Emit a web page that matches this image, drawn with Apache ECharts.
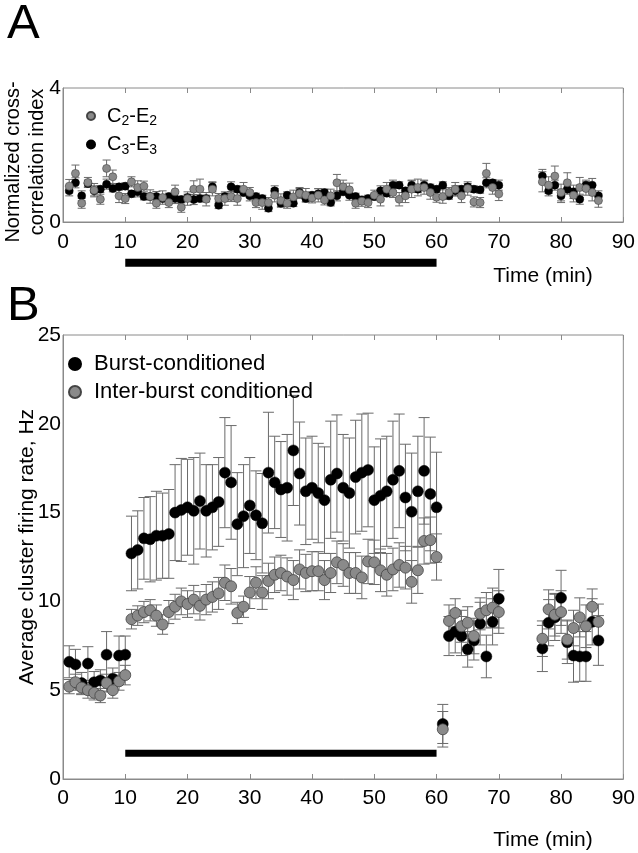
<!DOCTYPE html>
<html><head><meta charset="utf-8">
<script src="https://cdn.jsdelivr.net/npm/echarts@6/dist/echarts.min.js"></script>
<style>html,body{margin:0;padding:0;background:#fff}#c{width:638px;height:853px}</style>
</head><body><div id="c"></div>
<script>
// ---------- Panel A data ----------
const tA = [1,2,3,4,5,6,7,8,9,10,11,12,13,14,15,16,17,18,19,20,21,22,23,24,25,26,27,28,29,30,31,32,33,34,35,36,37,38,39,40,41,42,43,44,45,46,47,48,49,50,51,52,53,54,55,56,57,58,59,60,61,62,63,64,65,66,67,68,69,70,77,78,79,80,81,82,83,84,85,86];
const c2e2 = [1.07,1.45,0.56,1.18,0.95,0.68,1.6,1.35,0.78,0.7, 1.2,1.03,1.07,0.76,0.56,0.73,0.58,0.9,0.44,0.7, 0.98,0.98,0.68,0.98,0.7,0.7,0.76,0.7,0.98,0.88, 0.58,0.58,0.58,0.8,0.64,0.56,0.75,0.85,0.8,0.72, 0.8,0.66,0.78,1.17,1.05,0.96,0.56,0.62,0.58,0.8, 0.68,0.98,0.88,0.68,0.78,0.98,1.03,1.03,0.88,0.74, 0.76,0.88,0.98,0.78,1.0,0.6,0.58,1.45,1.03,0.84, 1.2,1.1,1.37,0.88,1.17,0.8,1.03,1.0,0.88,0.64];
const c2e2Err = [0.2,0.25,0.15,0.15,0.2,0.15,0.25,0.2,0.2,0.15, 0.15,0.2,0.15,0.2,0.15,0.2,0.15,0.2,0.15,0.2, 0.25,0.3,0.2,0.2,0.15,0.2,0.15,0.2,0.2,0.15, 0.15,0.2,0.15,0.2,0.2,0.15,0.2,0.15,0.2,0.15, 0.2,0.15,0.2,0.25,0.2,0.2,0.15,0.15,0.15,0.15, 0.2,0.2,0.15,0.2,0.2,0.25,0.25,0.2,0.2,0.15, 0.2,0.15,0.2,0.2,0.2,0.15,0.15,0.3,0.2,0.2, 0.3,0.25,0.3,0.25,0.3,0.2,0.3,0.2,0.25,0.2];
const c3e3 = [0.93,1.17,0.78,1.15,0.93,0.98,1.13,1.0,1.05,1.07, 0.84,0.9,0.76,0.76,0.76,0.7,0.76,0.7,0.67,0.73, 0.67,0.7,0.7,1.05,0.5,0.76,1.05,0.98,0.88,0.78, 0.76,0.7,0.41,0.93,0.56,0.8,0.56,0.88,0.7,0.8, 0.84,0.88,0.58,0.78,0.9,0.8,0.76,0.66,0.7,0.76, 0.93,0.86,1.1,1.1,0.93,1.1,0.98,1.1,1.03,0.98, 1.1,0.78,0.93,0.98,1.05,0.98,0.96,1.17,1.17,1.1, 1.37,0.93,1.1,0.78,0.98,0.9,0.68,1.1,1.1,0.78];
const c3e3Err = [0.15,0.15,0.15,0.1,0.15,0.1,0.15,0.1,0.1,0.1, 0.1,0.15,0.1,0.1,0.15,0.1,0.1,0.15,0.1,0.1, 0.15,0.1,0.1,0.15,0.1,0.1,0.15,0.1,0.1,0.15, 0.1,0.1,0.1,0.15,0.1,0.1,0.1,0.15,0.1,0.1, 0.15,0.1,0.1,0.15,0.1,0.15,0.1,0.1,0.1,0.1, 0.15,0.1,0.15,0.1,0.1,0.15,0.1,0.15,0.1,0.1, 0.1,0.1,0.15,0.1,0.1,0.1,0.1,0.15,0.1,0.15, 0.2,0.15,0.15,0.2,0.15,0.2,0.15,0.15,0.2,0.15];

// ---------- Panel B data ----------
const tB = [1,2,3,4,5,6,7,8,9,10,11,12,13,14,15,16,17,18,19,20,21,22,23,24,25,26,27,28,29,30,31,32,33,34,35,36,37,38,39,40,41,42,43,44,45,46,47,48,49,50,51,52,53,54,55,56,57,58,59,60,61,62,63,64,65,66,67,68,69,70,77,78,79,80,81,82,83,84,85,86];
const burst = [6.6,6.45,5.4,6.5,5.45,5.55,7.0,5.65,6.95,7.0, 12.7,12.9,13.55,13.5,13.7,13.7,13.8,15.0,15.15,15.3, 15.1,15.65,15.1,15.3,15.6,17.25,16.7,14.35,14.8,15.4, 14.85,14.4,17.25,16.7,16.3,16.4,18.5,17.2,16.2,16.4, 16.1,15.7,16.85,17.2,16.4,16.1,17.0,17.25,17.4,15.7, 15.95,16.2,16.85,17.35,15.85,15.05,16.2,17.35,16.05,15.3, 3.1,8.05,8.3,8.05,7.3,7.8,8.75,6.9,8.85,10.15, 7.35,8.8,9.1,10.2,7.7,6.95,6.9,6.9,8.85,7.8];
const burstErr = [0.9,0.85,0.6,0.95,0.6,0.6,1.3,0.6,1.1,1.05, 2.1,2.2,2.3,2.4,2.5,2.4,2.5,2.7,2.9,2.7, 3.0,2.7,2.6,2.4,2.5,3.1,3.2,2.9,2.9,2.7, 2.5,2.8,3.4,2.6,2.7,3.0,3.1,2.9,3.0,2.9, 2.8,3.0,3.3,3.3,3.0,3.1,3.2,3.3,3.2,3.0, 3.2,3.1,3.3,3.2,3.0,3.3,3.1,3.0,3.2,3.1, 1.1,1.1,1.2,1.1,1.0,1.1,1.2,1.2,1.3,1.65, 1.3,1.3,1.3,1.55,1.2,1.5,1.4,1.4,1.3,1.4];
const inter = [5.2,5.45,5.15,5.0,4.85,4.7,5.4,5.0,5.5,5.85, 9.0,9.2,9.4,9.5,9.2,8.7,9.4,9.7,10.0,9.85, 10.1,9.75,10.1,10.25,10.45,11.05,10.85,9.35,9.7,10.5, 11.05,10.5,11.15,11.5,11.6,11.4,11.2,11.8,11.6,11.7, 11.7,11.2,11.6,12.2,12.05,11.6,11.6,11.35,12.25,12.2, 11.75,11.5,11.8,12.05,11.9,11.1,11.75,13.4,13.45,12.5, 2.8,8.9,9.35,8.6,8.8,8.05,9.3,9.5,9.65,9.4, 7.9,9.55,9.25,9.4,7.85,8.5,9.1,8.6,9.7,8.85];
const interErr = [0.4,0.45,0.4,0.45,0.4,0.4,0.5,0.45,0.5,0.55, 0.55,0.55,0.6,0.6,0.6,0.55,0.65,0.7,0.75,0.75, 0.8,0.8,0.85,0.85,0.9,1.0,1.0,0.6,0.6,0.9, 0.9,0.95,1.0,1.0,1.0,1.05,1.1,1.1,1.05,1.1, 1.1,1.1,1.1,1.2,1.2,1.15,1.15,1.2,1.25,1.25, 1.2,1.2,1.2,1.25,1.2,1.2,1.3,1.3,1.3,1.3, 1.0,0.9,0.8,0.9,0.9,1.0,0.9,1.0,1.1,1.2, 1.0,1.1,1.2,1.2,1.1,1.0,1.1,1.2,1.0,1.0];

// conditioning period (min)
const stimStart = 10, stimEnd = 60;

const FONT = "'Liberation Sans', Arial, sans-serif";
const GRAY = '#8a8a8a', AXC = '#8a8a8a', ERRC = '#6a6a6a';

function pts(t, v) { return t.map((x, i) => [x, v[i]]); }
function errs(t, v, e) { return t.map((x, i) => [x, v[i] - e[i], v[i] + e[i]]); }
function errRender(capW) {
  return function (params, api) {
    const x = api.value(0), lo = api.value(1), hi = api.value(2);
    const p1 = api.coord([x, lo]), p2 = api.coord([x, hi]);
    const st = { stroke: ERRC, lineWidth: 1 };
    return { type: 'group', children: [
      { type: 'line', shape: { x1: p1[0], y1: p1[1], x2: p2[0], y2: p2[1] }, style: st },
      { type: 'line', shape: { x1: p1[0] - capW / 2, y1: p1[1], x2: p1[0] + capW / 2, y2: p1[1] }, style: st },
      { type: 'line', shape: { x1: p2[0] - capW / 2, y1: p2[1], x2: p2[0] + capW / 2, y2: p2[1] }, style: st }
    ]};
  };
}

const chart = echarts.init(document.getElementById('c'), null, { renderer: 'canvas' });

function xAxisPair(gi, margin) {
  return [
    { gridIndex: gi, type: 'value', min: 0, max: 90, interval: 10, position: 'bottom',
      axisLine: { show: true, lineStyle: { color: AXC } },
      axisTick: { show: true, inside: true, length: 5, lineStyle: { color: AXC } },
      axisLabel: { show: true, color: '#000', fontSize: 21, fontFamily: FONT, margin: margin, showMinLabel: true, showMaxLabel: true },
      splitLine: { show: false } },
    { gridIndex: gi, type: 'value', min: 0, max: 90, interval: 10, position: 'top',
      axisLine: { show: false }, axisLabel: { show: false },
      axisTick: { show: true, inside: true, length: 5, lineStyle: { color: AXC } },
      splitLine: { show: false } }
  ];
}

const option = {
  animation: false,
  backgroundColor: '#fff',
  grid: [
    { left: 63, top: 88, width: 561, height: 134, show: true, borderColor: AXC, borderWidth: 1, containLabel: false },
    { left: 63, top: 335, width: 561, height: 444, show: true, borderColor: AXC, borderWidth: 1, containLabel: false }
  ],
  xAxis: [].concat(xAxisPair(0, 10), xAxisPair(1, 9)),
  yAxis: [
    { gridIndex: 0, type: 'value', min: 0, max: 4, interval: 4,
      axisLine: { show: true, lineStyle: { color: AXC } }, axisTick: { show: false },
      axisLabel: { color: '#000', fontSize: 21, fontFamily: FONT, margin: 2 }, splitLine: { show: false } },
    { gridIndex: 1, type: 'value', min: 0, max: 25, interval: 5,
      axisLine: { show: true, lineStyle: { color: AXC } }, axisTick: { show: false },
      axisLabel: { color: '#000', fontSize: 21, fontFamily: FONT, margin: 2 }, splitLine: { show: false } }
  ],
  legend: [
    { data: ['C2-E2', 'C3-E3'], orient: 'vertical', left: 81, top: 101, itemGap: 6,
      itemWidth: 22, itemHeight: 8, icon: 'circle', selectedMode: false,
      formatter: function (name) {
        const p = name.split('-');
        return '{n|' + p[0][0] + '}{s|' + p[0].slice(1) + '}{n|-' + p[1][0] + '}{s|' + p[1].slice(1) + '}';
      },
      textStyle: { color: '#000', fontFamily: FONT,
        rich: { n: { fontSize: 20, fontFamily: FONT, color: '#000' },
                s: { fontSize: 14, fontFamily: FONT, color: '#000', padding: [11, 0, 0, 0] } } } },
    { data: ['Burst-conditioned', 'Inter-burst conditioned'], orient: 'vertical', left: 63, top: 348, itemGap: 6,
      itemWidth: 28, itemHeight: 12, icon: 'circle', selectedMode: false,
      textStyle: { color: '#000', fontSize: 22, fontFamily: FONT } }
  ],
  graphic: [
    { type: 'text', left: 7, top: 0, style: { text: 'A', fontSize: 49, fontFamily: FONT, fill: '#000' } },
    { type: 'text', left: 7, top: 282, style: { text: 'B', fontSize: 49, fontFamily: FONT, fill: '#000' } },
    { type: 'text', x: 25, y: 162, rotation: Math.PI / 2,
      style: { text: 'Normalized cross-\ncorrelation index', fontSize: 20, lineHeight: 24, fontFamily: FONT, fill: '#000', align: 'center', verticalAlign: 'middle' } },
    { type: 'text', x: 27, y: 547, rotation: Math.PI / 2,
      style: { text: 'Average cluster firing rate, Hz', fontSize: 21, fontFamily: FONT, fill: '#000', align: 'center', verticalAlign: 'middle' } },
    { type: 'text', x: 543, y: 276, style: { text: 'Time (min)', fontSize: 21, fontFamily: FONT, fill: '#000', align: 'center', verticalAlign: 'middle' } },
    { type: 'text', x: 543, y: 840, style: { text: 'Time (min)', fontSize: 21, fontFamily: FONT, fill: '#000', align: 'center', verticalAlign: 'middle' } }
  ],
  series: [
    // Panel A
    { type: 'line', xAxisIndex: 0, yAxisIndex: 0, data: [[stimStart, -1.22], [stimEnd, -1.22]], clip: false, silent: true,
      symbol: 'none', lineStyle: { color: '#000', width: 8, cap: 'butt' } },
    { type: 'custom', name: 'errC3', xAxisIndex: 0, yAxisIndex: 0, data: errs(tA, c3e3, c3e3Err), renderItem: errRender(8), encode: { x: 0, y: [1, 2] }, silent: true },
    { type: 'scatter', name: 'C3-E3', xAxisIndex: 0, yAxisIndex: 0, data: pts(tA, c3e3), symbolSize: 8,
      itemStyle: { color: '#000', borderColor: '#000', borderWidth: 0.5, opacity: 1 } },
    { type: 'custom', name: 'errC2', xAxisIndex: 0, yAxisIndex: 0, data: errs(tA, c2e2, c2e2Err), renderItem: errRender(8), encode: { x: 0, y: [1, 2] }, silent: true },
    { type: 'scatter', name: 'C2-E2', xAxisIndex: 0, yAxisIndex: 0, data: pts(tA, c2e2), symbolSize: 8,
      itemStyle: { color: GRAY, borderColor: '#444', borderWidth: 0.6, opacity: 1 } },
    // Panel B
    { type: 'line', xAxisIndex: 2, yAxisIndex: 1, data: [[stimStart, 1.45], [stimEnd, 1.45]], silent: true,
      symbol: 'none', lineStyle: { color: '#000', width: 7, cap: 'butt' } },
    { type: 'custom', name: 'errBurst', xAxisIndex: 2, yAxisIndex: 1, data: errs(tB, burst, burstErr), renderItem: errRender(11), encode: { x: 0, y: [1, 2] }, silent: true },
    { type: 'scatter', name: 'Burst-conditioned', xAxisIndex: 2, yAxisIndex: 1, data: pts(tB, burst), symbolSize: 11,
      itemStyle: { color: '#000', borderColor: '#000', borderWidth: 0.5, opacity: 1 } },
    { type: 'custom', name: 'errInter', xAxisIndex: 2, yAxisIndex: 1, data: errs(tB, inter, interErr), renderItem: errRender(11), encode: { x: 0, y: [1, 2] }, silent: true },
    { type: 'scatter', name: 'Inter-burst conditioned', xAxisIndex: 2, yAxisIndex: 1, data: pts(tB, inter), symbolSize: 11,
      itemStyle: { color: GRAY, borderColor: '#444', borderWidth: 0.8, opacity: 1 } }
  ]
};
chart.setOption(option);
</script>
</body></html>
